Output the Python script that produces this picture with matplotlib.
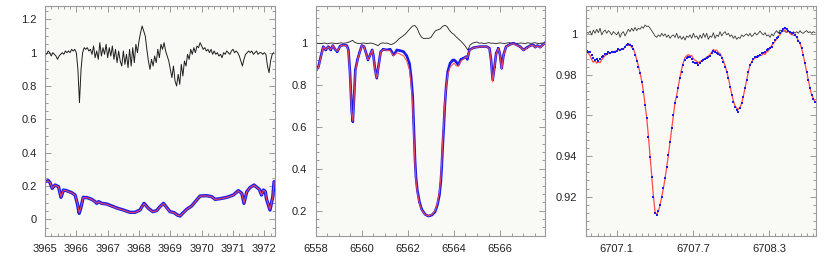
import numpy as np
import matplotlib
matplotlib.use("Agg")
import matplotlib.pyplot as plt
from matplotlib.ticker import FixedLocator, MultipleLocator, FuncFormatter

plt.rcParams['font.family'] = ['Liberation Sans', 'DejaVu Sans']

# ---------------- Panel 1: Ca II H region ----------------
ratio1_start, ratio1_step = 3965.00, 0.05
ratio1 = [1.00, 0.99, 1.01, 1.00, 0.98, 1.00, 0.99, 0.98, 0.96, 0.98,
          0.99, 1.00, 0.99, 1.01, 1.00, 1.01, 1.00, 1.02, 1.01, 1.02,
          1.00, 0.90, 0.70, 0.90, 1.00, 1.03, 1.02, 1.03, 1.01, 1.02,
          0.99, 1.04, 0.97, 1.01, 0.96, 1.06, 0.98, 1.03, 0.99, 1.05,
          0.97, 1.03, 0.98, 1.04, 0.96, 1.02, 0.94, 1.01, 0.95, 0.92,
          1.01, 0.93, 0.99, 0.91, 1.02, 0.92, 1.03, 0.94, 1.05, 1.00,
          1.07, 1.12, 1.16, 1.13, 1.10, 1.02, 0.95, 0.90, 0.96, 0.92,
          0.98, 0.94, 1.02, 0.97, 1.05, 1.02, 1.06, 1.01, 0.98, 0.95,
          0.90, 0.85, 0.92, 0.83, 0.80, 0.87, 0.81, 0.93, 0.86, 0.95,
          0.92, 0.99, 0.96, 1.02, 0.99, 1.03, 1.00, 1.04, 1.03, 1.06,
          1.04, 1.02, 1.03, 1.01, 1.02, 1.00, 1.02, 0.99, 1.01, 0.99,
          1.00, 0.98, 0.99, 0.97, 1.00, 0.99, 1.01, 1.00, 0.99, 1.01,
          1.02, 1.00, 1.01, 1.00, 0.98, 0.95, 0.92, 0.96, 0.99, 1.00,
          1.01, 1.00, 1.01, 0.99, 1.00, 1.01, 0.99, 1.00, 1.00, 0.99,
          1.00, 0.99, 0.92, 0.88, 0.95, 0.99, 1.00]

wl1 = [3965.00, 3965.11, 3965.16, 3965.23, 3965.32, 3965.43, 3965.51, 3965.59,
       3965.69, 3965.85, 3965.96, 3966.03, 3966.09, 3966.14, 3966.22, 3966.35,
       3966.49, 3966.60, 3966.65, 3966.71, 3966.81, 3966.97, 3967.13, 3967.29,
       3967.50, 3967.71, 3967.87, 3968.03, 3968.16, 3968.30, 3968.44, 3968.56,
       3968.67, 3968.78, 3968.88, 3968.99, 3969.12, 3969.22, 3969.31, 3969.39,
       3969.52, 3969.68, 3969.84, 3969.95, 3970.16, 3970.32, 3970.43, 3970.59,
       3970.80, 3971.01, 3971.17, 3971.28, 3971.35, 3971.44, 3971.54, 3971.67,
       3971.76, 3971.84, 3971.91, 3971.97, 3972.03, 3972.07, 3972.18, 3972.27,
       3972.31]
obs1 = [0.226, 0.232, 0.220, 0.186, 0.206, 0.196, 0.132, 0.176,
        0.172, 0.160, 0.146, 0.096, 0.036, 0.066, 0.132, 0.130,
        0.120, 0.106, 0.096, 0.106, 0.096, 0.092, 0.080, 0.068,
        0.056, 0.042, 0.042, 0.056, 0.096, 0.066, 0.046, 0.052,
        0.076, 0.096, 0.072, 0.046, 0.040, 0.026, 0.020, 0.036,
        0.060, 0.080, 0.116, 0.140, 0.142, 0.136, 0.120, 0.124,
        0.132, 0.146, 0.172, 0.156, 0.096, 0.166, 0.190, 0.206,
        0.192, 0.180, 0.146, 0.176, 0.166, 0.120, 0.056, 0.136,
        0.226]
model1 = [0.224, 0.230, 0.219, 0.188, 0.205, 0.195, 0.135, 0.175,
          0.171, 0.159, 0.145, 0.098, 0.040, 0.068, 0.131, 0.129,
          0.119, 0.105, 0.097, 0.105, 0.095, 0.091, 0.079, 0.067,
          0.055, 0.041, 0.041, 0.055, 0.094, 0.065, 0.045, 0.051,
          0.075, 0.094, 0.071, 0.045, 0.039, 0.025, 0.021, 0.035,
          0.059, 0.079, 0.115, 0.139, 0.141, 0.135, 0.119, 0.123,
          0.131, 0.145, 0.170, 0.155, 0.098, 0.165, 0.189, 0.205,
          0.191, 0.179, 0.147, 0.175, 0.165, 0.122, 0.060, 0.135,
          0.224]

# ---------------- Panel 2: H-alpha region ----------------
ratio2_start, ratio2_step = 6558.0, 0.1
ratio2 = [1.000, 1.000, 0.998, 1.000, 1.001, 0.997, 1.000, 1.001, 1.000, 0.998,
          1.000, 1.002, 1.000, 1.001, 1.004, 1.008, 1.014, 1.004, 1.000, 0.999,
          1.000, 1.001, 0.999, 1.000, 1.001, 0.998, 0.994, 0.988, 0.998, 1.002,
          1.000, 1.001, 0.996, 0.994, 1.000, 1.008, 1.020, 1.028, 1.036, 1.045,
          1.058, 1.070, 1.082, 1.085, 1.072, 1.045, 1.028, 1.022, 1.024, 1.023,
          1.028, 1.045, 1.060, 1.064, 1.068, 1.080, 1.086, 1.080, 1.062, 1.050,
          1.042, 1.030, 1.020, 1.010, 0.998, 0.985, 0.968, 0.992, 1.000, 1.004,
          1.006, 1.000, 1.002, 0.998, 1.000, 1.003, 1.000, 1.001, 0.998, 1.000,
          1.002, 1.000, 0.999, 1.001, 1.003, 1.000, 1.002, 0.998, 1.000, 1.001,
          1.000, 0.999, 1.002, 1.000, 1.000, 1.003, 1.000, 0.999, 1.001, 1.000]

wl2 = [6558.00, 6558.12, 6558.22, 6558.33, 6558.43, 6558.55, 6558.65, 6558.74,
       6558.84, 6558.94, 6559.06, 6559.20, 6559.35, 6559.42, 6559.49, 6559.56,
       6559.61, 6559.66, 6559.72, 6559.81, 6559.90, 6560.00, 6560.10, 6560.19,
       6560.27, 6560.36, 6560.45, 6560.50, 6560.58, 6560.65, 6560.72, 6560.82,
       6560.94, 6561.08, 6561.23, 6561.30, 6561.37, 6561.44, 6561.52, 6561.66,
       6561.81, 6561.95, 6562.07, 6562.14, 6562.21, 6562.24, 6562.28, 6562.31,
       6562.35, 6562.41, 6562.50, 6562.60, 6562.75, 6562.89, 6563.04, 6563.18,
       6563.28, 6563.37, 6563.43, 6563.47, 6563.51, 6563.56, 6563.60, 6563.66,
       6563.73, 6563.83, 6563.95, 6564.01, 6564.09, 6564.19, 6564.30, 6564.41,
       6564.53, 6564.58, 6564.67, 6564.85, 6565.13, 6565.42, 6565.54, 6565.61,
       6565.68, 6565.76, 6565.83, 6565.93, 6566.00, 6566.07, 6566.15, 6566.26,
       6566.44, 6566.58, 6566.73, 6566.87, 6567.02, 6567.16, 6567.31, 6567.45,
       6567.52, 6567.62, 6567.74, 6567.96]
obs2 = [0.868, 0.888, 0.936, 0.984, 0.968, 0.984, 0.968, 0.989,
        0.971, 0.960, 0.987, 0.992, 0.989, 0.968, 0.857, 0.680,
        0.625, 0.729, 0.872, 0.920, 0.955, 0.989, 0.984, 0.952,
        0.920, 0.944, 0.968, 0.944, 0.872, 0.833, 0.888, 0.960,
        0.971, 0.968, 0.971, 0.960, 0.944, 0.952, 0.968, 0.965,
        0.960, 0.940, 0.904, 0.840, 0.745, 0.649, 0.537, 0.442,
        0.362, 0.298, 0.243, 0.206, 0.182, 0.174, 0.179, 0.195,
        0.227, 0.275, 0.339, 0.410, 0.506, 0.602, 0.697, 0.793,
        0.865, 0.904, 0.920, 0.920, 0.912, 0.896, 0.923, 0.928,
        0.936, 0.923, 0.968, 0.979, 0.984, 0.984, 0.976, 0.920,
        0.825, 0.888, 0.952, 0.976, 0.944, 0.880, 0.944, 0.984,
        0.995, 1.000, 0.992, 0.984, 0.968, 0.979, 0.989, 0.992,
        0.981, 0.989, 0.981, 1.003]
model2 = [0.865, 0.885, 0.933, 0.982, 0.970, 0.982, 0.970, 0.988,
          0.972, 0.962, 0.986, 0.991, 0.987, 0.962, 0.845, 0.668,
          0.628, 0.715, 0.862, 0.918, 0.953, 0.988, 0.983, 0.950,
          0.921, 0.943, 0.966, 0.940, 0.868, 0.835, 0.885, 0.958,
          0.970, 0.966, 0.964, 0.953, 0.940, 0.946, 0.955, 0.948,
          0.940, 0.915, 0.872, 0.805, 0.705, 0.610, 0.505, 0.418,
          0.345, 0.285, 0.236, 0.203, 0.181, 0.175, 0.181, 0.200,
          0.235, 0.290, 0.360, 0.435, 0.530, 0.625, 0.712, 0.790,
          0.850, 0.885, 0.900, 0.905, 0.893, 0.890, 0.915, 0.925,
          0.935, 0.930, 0.965, 0.978, 0.983, 0.983, 0.974, 0.915,
          0.815, 0.885, 0.950, 0.975, 0.943, 0.876, 0.942, 0.983,
          0.994, 0.998, 0.990, 0.983, 0.967, 0.977, 0.988, 0.990,
          0.980, 0.988, 0.980, 1.002]

# ---------------- Panel 3: Li I region ----------------
grid3_start, grid3_stop = 6706.864, 6708.6625
ratio3 = [1.0010, 1.0005, 1.0016, 0.9997, 1.0021, 1.0005, 1.0025, 1.0008, 1.0030, 0.9997,
          1.0013, 1.0021, 1.0005, 1.0018, 1.0010, 0.9997, 1.0013, 1.0005, 0.9997, 1.0013,
          0.9985, 1.0005, 1.0013, 0.9992, 1.0008, 1.0025, 1.0013, 1.0030, 1.0016, 1.0034,
          1.0018, 1.0030, 1.0025, 1.0038, 1.0030, 1.0046, 1.0038, 1.0041, 1.0030, 1.0018,
          1.0005, 0.9992, 0.9985, 0.9997, 0.9989, 1.0005, 0.9992, 1.0002, 0.9985, 0.9997,
          0.9980, 0.9992, 0.9997, 0.9985, 1.0005, 0.9980, 0.9992, 0.9975, 0.9989, 0.9972,
          0.9992, 0.9985, 0.9997, 0.9980, 1.0005, 0.9985, 0.9992, 0.9975, 0.9997, 0.9980,
          1.0005, 0.9985, 1.0005, 0.9975, 0.9992, 0.9985, 1.0008, 0.9980, 0.9997, 0.9989,
          1.0013, 0.9992, 1.0005, 1.0013, 0.9997, 1.0005, 0.9989, 0.9997, 0.9980, 0.9992,
          0.9975, 0.9985, 0.9980, 0.9997, 0.9989, 0.9997, 1.0002, 0.9992, 1.0005, 0.9989,
          0.9997, 1.0008, 0.9997, 1.0005, 1.0016, 1.0005, 0.9997, 1.0008, 0.9992, 0.9997,
          0.9985, 1.0002, 0.9992, 1.0008, 1.0018, 1.0005, 1.0021, 1.0013, 1.0025, 1.0013,
          1.0008, 1.0018, 1.0005, 0.9997, 1.0013, 1.0005, 1.0013, 1.0005, 1.0018, 1.0008,
          1.0005, 1.0013, 1.0018, 1.0008, 1.0013, 1.0005, 1.0013, 1.0008]
obs3 = [0.9920, 0.9915, 0.9911, 0.9898, 0.9882, 0.9874, 0.9877, 0.9870, 0.9877, 0.9890,
        0.9893, 0.9901, 0.9903, 0.9911, 0.9910, 0.9911, 0.9915, 0.9915, 0.9920, 0.9926,
        0.9923, 0.9926, 0.9929, 0.9939, 0.9947, 0.9951, 0.9949, 0.9943, 0.9926, 0.9898,
        0.9870, 0.9841, 0.9808, 0.9767, 0.9717, 0.9652, 0.9586, 0.9496, 0.9397, 0.9299,
        0.9200, 0.9118, 0.9110, 0.9131, 0.9159, 0.9200, 0.9241, 0.9290, 0.9348, 0.9405,
        0.9471, 0.9537, 0.9602, 0.9660, 0.9693, 0.9734, 0.9783, 0.9816, 0.9849, 0.9874,
        0.9882, 0.9890, 0.9887, 0.9877, 0.9865, 0.9860, 0.9857, 0.9849, 0.9857, 0.9870,
        0.9874, 0.9877, 0.9882, 0.9887, 0.9893, 0.9906, 0.9920, 0.9915, 0.9910, 0.9903,
        0.9898, 0.9882, 0.9865, 0.9841, 0.9816, 0.9783, 0.9742, 0.9701, 0.9668, 0.9644,
        0.9627, 0.9619, 0.9635, 0.9660, 0.9693, 0.9734, 0.9775, 0.9816, 0.9849, 0.9865,
        0.9877, 0.9887, 0.9890, 0.9893, 0.9898, 0.9906, 0.9910, 0.9915, 0.9923, 0.9926,
        0.9931, 0.9939, 0.9956, 0.9972, 0.9980, 0.9989, 1.0005, 1.0018, 1.0025, 1.0030,
        1.0025, 1.0018, 1.0013, 1.0008, 1.0005, 0.9997, 0.9989, 0.9969, 0.9956, 0.9931,
        0.9898, 0.9857, 0.9816, 0.9775, 0.9734, 0.9701, 0.9680, 0.9668]
model3 = [0.9918, 0.9905, 0.9895, 0.9875, 0.9862, 0.9870, 0.9858, 0.9865, 0.9860, 0.9875,
          0.9885, 0.9895, 0.9900, 0.9908, 0.9905, 0.9912, 0.9910, 0.9918, 0.9915, 0.9925,
          0.9920, 0.9930, 0.9925, 0.9940, 0.9950, 0.9945, 0.9952, 0.9935, 0.9930, 0.9905,
          0.9875, 0.9845, 0.9810, 0.9770, 0.9720, 0.9655, 0.9588, 0.9500, 0.9400, 0.9302,
          0.9205, 0.9125, 0.9112, 0.9128, 0.9158, 0.9198, 0.9240, 0.9288, 0.9346, 0.9404,
          0.9470, 0.9538, 0.9604, 0.9665, 0.9700, 0.9745, 0.9790, 0.9830, 0.9862, 0.9885,
          0.9895, 0.9900, 0.9893, 0.9895, 0.9880, 0.9872, 0.9868, 0.9860, 0.9865, 0.9870,
          0.9878, 0.9880, 0.9888, 0.9892, 0.9900, 0.9912, 0.9925, 0.9920, 0.9922, 0.9910,
          0.9905, 0.9888, 0.9870, 0.9845, 0.9818, 0.9785, 0.9745, 0.9705, 0.9672, 0.9648,
          0.9635, 0.9630, 0.9640, 0.9662, 0.9695, 0.9735, 0.9775, 0.9815, 0.9850, 0.9862,
          0.9878, 0.9882, 0.9892, 0.9888, 0.9900, 0.9895, 0.9908, 0.9900, 0.9915, 0.9918,
          0.9930, 0.9945, 0.9955, 0.9965, 0.9978, 0.9990, 0.9998, 1.0012, 1.0015, 1.0022,
          1.0010, 1.0018, 1.0005, 1.0002, 0.9995, 0.9998, 0.9985, 0.9970, 0.9955, 0.9930,
          0.9895, 0.9855, 0.9815, 0.9775, 0.9735, 0.9700, 0.9685, 0.9665]

# tick values
xticks1 = [3965, 3966, 3967, 3968, 3969, 3970, 3971, 3972]
yticks1 = [0, 0.2, 0.4, 0.6, 0.8, 1.0, 1.2]
xticks2 = [6558, 6560, 6562, 6564, 6566]
yticks2 = [0.2, 0.4, 0.6, 0.8, 1.0]
xticks3 = [6707.1, 6707.7, 6708.3]
yticks3 = [0.92, 0.94, 0.96, 0.98, 1.0]

# ---------------- drawing ----------------
W, H = 830, 270
fig = plt.figure(figsize=(W / 100, H / 100), dpi=100)
face = '#f9faf6'
BLUE = '#1a1aee'
RED = '#ff4a4a'
BLACK = '#1e1e1e'

def fmt(v, p):
    s = ('%.2f' % v).rstrip('0').rstrip('.')
    return s

def style(ax, xt, yt, xminor, yminor, xlim, ylim):
    ax.set_facecolor(face)
    ax.set_xlim(*xlim)
    ax.set_ylim(*ylim)
    ax.xaxis.set_major_locator(FixedLocator(xt))
    ax.yaxis.set_major_locator(FixedLocator(yt))
    ax.xaxis.set_minor_locator(MultipleLocator(xminor))
    ax.yaxis.set_minor_locator(MultipleLocator(yminor))
    ax.xaxis.set_major_formatter(FuncFormatter(fmt))
    ax.yaxis.set_major_formatter(FuncFormatter(fmt))
    ax.tick_params(which='both', direction='in', top=True, right=True,
                   color='#8a8a8a', width=0.6, labelsize=8, labelcolor='#222222')
    ax.tick_params(which='major', length=4, pad=6)
    ax.tick_params(which='minor', length=2.2)
    for s in ax.spines.values():
        s.set_color('#9a9a9a')
        s.set_linewidth(0.8)

bot, top = 1 - 236 / H, 1 - 6 / H
ax1 = fig.add_axes([45 / W, bot, 230 / W, top - bot])
ax2 = fig.add_axes([315.7 / W, bot, 229.3 / W, top - bot])
ax3 = fig.add_axes([585.7 / W, bot, 230 / W, top - bot])

# panel 1
x_r1 = ratio1_start + ratio1_step * np.arange(len(ratio1))
ax1.plot(x_r1, ratio1, color=BLACK, lw=0.7)
ax1.plot(wl1, obs1, color=BLUE, lw=2.4, solid_capstyle='round')
ax1.plot(wl1, model1, color=RED, lw=0.8, alpha=0.9)
style(ax1, xticks1, yticks1, 0.2, 0.05, (3965.0, 3972.34), (-0.1, 1.28))

# panel 2
x_r2 = ratio2_start + ratio2_step * np.arange(len(ratio2))
ax2.plot(x_r2, ratio2, color=BLACK, lw=0.6)
ax2.plot(wl2, obs2, color=BLUE, lw=1.9, marker='s', ms=1.5, mew=0)
ax2.plot(wl2, model2, color=RED, lw=0.8, alpha=0.9)
style(ax2, xticks2, yticks2, 0.5, 0.04, (6558.0, 6567.95), (0.079, 1.178))

# panel 3
x3 = np.linspace(grid3_start, grid3_stop, len(obs3))
ax3.plot(x3, ratio3, color='#3a3a3a', lw=0.6)
ax3.plot(x3, model3, color=RED, lw=0.9)
ax3.plot(x3, obs3, linestyle='none', marker='s', ms=1.8, mew=0, color=BLUE)
style(ax3, xticks3, yticks3, 0.05, 0.004, (6706.856, 6708.668), (0.9006, 1.01395))

fig.savefig('out.png', dpi=100, facecolor='white')
